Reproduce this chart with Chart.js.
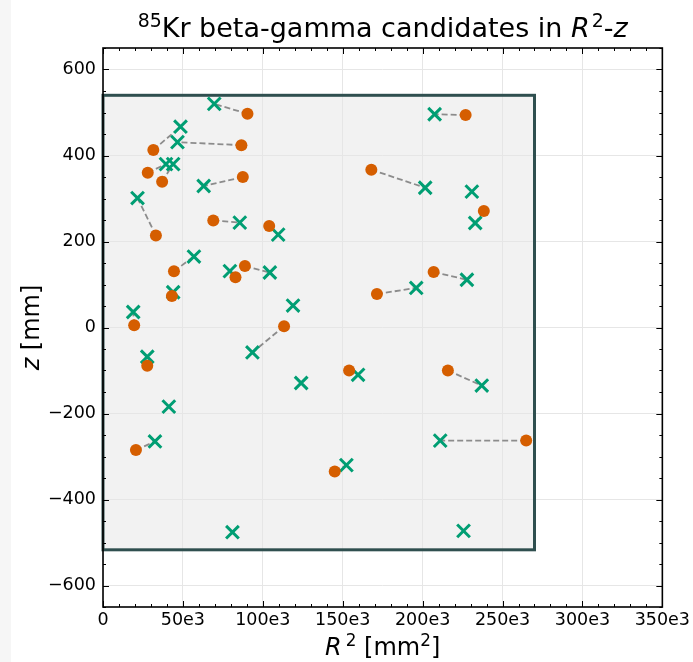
<!DOCTYPE html>
<html lang="en">
<head>
<meta charset="utf-8">
<title>85Kr beta-gamma candidates</title>
<script src="https://cdn.jsdelivr.net/npm/chart.js@4.4.1/dist/chart.umd.min.js"></script>
<style>
  html, body { margin: 0; padding: 0; background: #fff; }
  #wrap { position: relative; width: 693px; height: 662px; }
  #strip { position: absolute; left: 0; top: 0; width: 11px; height: 662px; background: #f6f6f6; }
  #kr { position: absolute; left: 0; top: 0; }
</style>
</head>
<body>
<div id="wrap">
  <div id="strip"></div>
  <canvas id="kr" width="693" height="662"></canvas>
</div>

<script>
// beta candidates (R^2 in mm^2, z in mm)
const betaR2 = [90400, 31500, 86600, 28000, 37000, 87500, 33100, 69000, 104000, 44400, 82900, 88800, 43100,
                19500, 27700, 20600, 113300, 226900, 167900, 238300, 206900, 171400, 154000, 215800, 264800, 145000];
const betaZ  = [497, 413, 424, 360, 339, 350, 214, 249, 236, 131, 117, 143, 73,
                5, -89, -285, 3, 494, 367, 271, 129, 78, -100, -100, -263, -335];

// matched gamma for each beta, same order
const gammaR2 = [69600, 48500, 46600, 39400, 43900, 63000, 21600, 85600, 109600, 56900, 79400, 104400, 43900,
                 18900, 27700, 32500, 93500, 207500, 201600, 232900, 227700, 196000, 159600, 237000, 211000, 152300];
const gammaZ  = [520, 467, 431, 380, 380, 329, 301, 244, 216, 165, 131, 128, 82,
                 36, -68, -265, -58, 496, 325, 243, 111, 92, -110, -135, -263, -320];

// gammas without a beta partner
const loneR2 = [41200, 81000, 225600, 124000, 118900, 230800];
const loneZ  = [-184, -476, -473, -129, 51, 316];

// fiducial volume box
const fvR2Max = 270000;
const fvZTop = 540;
const fvZBottom = -517;

// axis ticks
const xTicks = [0, 50000, 100000, 150000, 200000, 250000, 300000, 350000];
const yTicks = [-600, -400, -200, 0, 200, 400, 600];

const FONT = "'DejaVu Sans', sans-serif";

const betaPts = betaR2.map((r, i) => ({ x: r, y: betaZ[i] }));
const gammaPts = gammaR2.map((r, i) => ({ x: r, y: gammaZ[i] }))
  .concat(loneR2.map((r, i) => ({ x: r, y: loneZ[i] })));

// beta -> gamma links, broken up by null points
const links = [];
betaR2.forEach((r, i) => {
  links.push({ x: r, y: betaZ[i] });
  links.push({ x: gammaR2[i], y: gammaZ[i] });
  links.push({ x: gammaR2[i], y: null });
});

// grey box for the fiducial volume
const volumeBox = {
  id: 'volumeBox',
  beforeDraw(chart) {
    const { ctx, scales: { x, y } } = chart;
    const x0 = x.getPixelForValue(0), x1 = x.getPixelForValue(fvR2Max);
    const y0 = y.getPixelForValue(fvZTop), y1 = y.getPixelForValue(fvZBottom);
    ctx.save();
    ctx.fillStyle = '#f2f2f2';
    ctx.fillRect(x0, y0, x1 - x0, y1 - y0);
    ctx.restore();
  },
  beforeDatasetsDraw(chart) {
    const { ctx, scales: { x, y } } = chart;
    const x0 = x.getPixelForValue(0), x1 = x.getPixelForValue(fvR2Max);
    const y0 = y.getPixelForValue(fvZTop), y1 = y.getPixelForValue(fvZBottom);
    ctx.save();
    ctx.strokeStyle = '#2f4f4f';
    ctx.lineWidth = 3;
    ctx.strokeRect(x0, y0, x1 - x0, y1 - y0);
    ctx.restore();
  }
};

// black frame with inward ticks on all four sides
const frame = {
  id: 'frame',
  afterDraw(chart) {
    const { ctx, chartArea: a, scales: { x, y } } = chart;
    ctx.save();
    ctx.strokeStyle = '#000';
    ctx.lineWidth = 1;
    ctx.beginPath();
    for (let v = 0; v <= 350000; v += 10000) {
      const px = Math.round(x.getPixelForValue(v)) + 0.5;
      const len = v % 50000 === 0 ? 6 : 3;
      ctx.moveTo(px, a.bottom); ctx.lineTo(px, a.bottom - len);
      ctx.moveTo(px, a.top); ctx.lineTo(px, a.top + len);
    }
    for (let v = -650; v <= 650; v += 50) {
      const py = Math.round(y.getPixelForValue(v)) + 0.5;
      const len = v % 200 === 0 ? 6 : 3;
      ctx.moveTo(a.left, py); ctx.lineTo(a.left + len, py);
      ctx.moveTo(a.right, py); ctx.lineTo(a.right - len, py);
    }
    ctx.stroke();
    ctx.lineWidth = 1.6;
    ctx.strokeRect(a.left, a.top, a.right - a.left, a.bottom - a.top);
    ctx.restore();
  }
};

// mixed text: italics and superscripts
function drawRuns(ctx, runs, size, cx, base) {
  const fontFor = r => (r.it ? 'italic ' : '') + (r.sup ? size * 0.7 : size) + 'px ' + FONT;
  let total = 0;
  runs.forEach(r => { ctx.font = fontFor(r); r.w = ctx.measureText(r.t).width + (r.gap || 0); total += r.w; });
  let px = cx - total / 2;
  ctx.textBaseline = 'alphabetic';
  ctx.textAlign = 'left';
  runs.forEach(r => {
    ctx.font = fontFor(r);
    ctx.fillText(r.t, px, r.sup ? base - size * 0.38 : base);
    px += r.w;
  });
}

const labels = {
  id: 'labels',
  afterDraw(chart) {
    const { ctx, chartArea: a } = chart;
    const cx = (a.left + a.right) / 2;
    ctx.save();
    ctx.fillStyle = '#000';
    drawRuns(ctx, [
      { t: '85', sup: true },
      { t: 'Kr beta-gamma candidates in ' },
      { t: 'R', it: true, gap: 2 },
      { t: '2', sup: true },
      { t: '-' },
      { t: 'z', it: true }
    ], 27, cx, 37);
    drawRuns(ctx, [
      { t: 'R', it: true, gap: 4 },
      { t: '2', sup: true },
      { t: ' [mm' },
      { t: '2', sup: true },
      { t: ']' }
    ], 24, cx, 655);
    ctx.translate(39, (a.top + a.bottom) / 2);
    ctx.rotate(-Math.PI / 2);
    drawRuns(ctx, [
      { t: 'z', it: true },
      { t: ' [mm]' }
    ], 24, 0, 0);
    ctx.restore();
  }
};

const tickFont = { family: FONT, size: 17.5 };

new Chart(document.getElementById('kr'), {
  type: 'scatter',
  data: {
    datasets: [
      {
        type: 'line',
        data: links,
        borderColor: '#8c8c8c',
        borderWidth: 1.8,
        borderDash: [6, 3],
        pointRadius: 0,
        spanGaps: false,
        fill: false,
        order: 3
      },
      {
        data: gammaPts,
        pointStyle: 'crossRot',
        pointRadius: 9,
        borderColor: '#009e73',
        borderWidth: 3,
        order: 2
      },
      {
        data: betaPts,
        pointStyle: 'circle',
        pointRadius: 6,
        backgroundColor: '#d55e00',
        borderWidth: 0,
        order: 1
      }
    ]
  },
  options: {
    responsive: false,
    animation: false,
    devicePixelRatio: 1,
    layout: { padding: { top: 48, right: 30, left: 0, bottom: 0 } },
    plugins: { legend: { display: false }, tooltip: { enabled: false } },
    scales: {
      x: {
        type: 'linear',
        min: 0,
        max: 350000,
        afterFit: s => { s.height = 55; },
        afterBuildTicks: s => { s.ticks = xTicks.map(v => ({ value: v })); },
        ticks: {
          font: tickFont,
          color: '#000',
          padding: 3,
          maxRotation: 0,
          callback: v => v === 0 ? '0' : (v / 1000) + 'e3'
        },
        grid: { color: '#e6e6e6', drawTicks: false },
        border: { display: false }
      },
      y: {
        type: 'linear',
        min: -650,
        max: 650,
        afterFit: s => { s.width = 103; },
        afterBuildTicks: s => { s.ticks = yTicks.map(v => ({ value: v })); },
        ticks: {
          font: tickFont,
          color: '#000',
          padding: 7,
          callback: v => v < 0 ? '\u2212' + Math.abs(v) : String(v)
        },
        grid: { color: '#e6e6e6', drawTicks: false },
        border: { display: false }
      }
    }
  },
  plugins: [volumeBox, frame, labels]
});
</script>
</body>
</html>
